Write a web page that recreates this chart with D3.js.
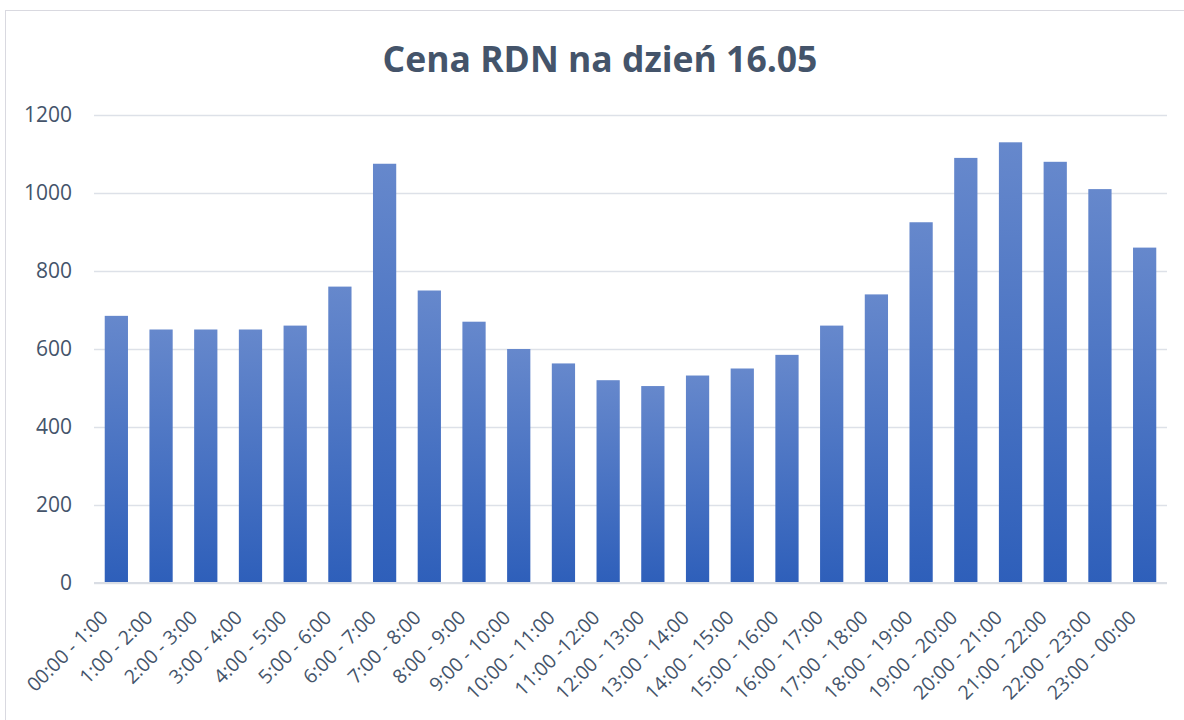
<!DOCTYPE html>
<html>
<head>
<meta charset="utf-8">
<script src="https://cdn.jsdelivr.net/npm/d3@7"></script>
<style>
  body { margin: 0; background: #fff; }
  .chart { width: 1184px; height: 720px; }
  text { font-family: "Open Sans", "Noto Sans", sans-serif; fill: #44546a; }
</style>
</head>
<body>
<div class="chart"></div>
<script>
var title = "Cena RDN na dzień 16.05";
var hours = ["00:00 - 1:00", "1:00 - 2:00", "2:00 - 3:00", "3:00 - 4:00", "4:00 - 5:00",
  "5:00 - 6:00", "6:00 - 7:00", "7:00 - 8:00", "8:00 - 9:00", "9:00 - 10:00",
  "10:00 - 11:00", "11:00 -12:00", "12:00 - 13:00", "13:00 - 14:00", "14:00 - 15:00",
  "15:00 - 16:00", "16:00 - 17:00", "17:00 - 18:00", "18:00 - 19:00", "19:00 - 20:00",
  "20:00 - 21:00", "21:00 - 22:00", "22:00 - 23:00", "23:00 - 00:00"];
var prices = [685, 650, 650, 650, 660, 760, 1075, 750, 670, 600,
  563, 520, 505, 532, 550, 585, 660, 740, 925, 1090,
  1130, 1080, 1010, 860];
var yTicks = [0, 200, 400, 600, 800, 1000, 1200];

var margin = { top: 115, right: 17, bottom: 137, left: 94 };
var width = 1184 - margin.left - margin.right;
var height = 720 - margin.top - margin.bottom;

var root = d3.select(".chart").append("svg")
    .attr("width", 1184)
    .attr("height", 720);

// chart area border
root.append("rect")
    .attr("x", 5.5).attr("y", 10.5)
    .attr("width", 1200).attr("height", 720)
    .attr("fill", "none")
    .attr("stroke", "#d9d9e0")
    .attr("stroke-width", 1);

var grad = root.append("defs").append("linearGradient")
    .attr("id", "barFill")
    .attr("x1", 0).attr("y1", 0).attr("x2", 0).attr("y2", 1);
grad.append("stop").attr("offset", "0%").attr("stop-color", "#6688cc");
grad.append("stop").attr("offset", "100%").attr("stop-color", "#2e5fba");

root.append("text")
    .attr("x", 600).attr("y", 72)
    .attr("text-anchor", "middle")
    .style("font-size", "35.5px")
    .style("font-weight", "bold")
    .text(title);

var svg = root.append("g")
    .attr("transform", "translate(" + margin.left + "," + margin.top + ")");

var x = d3.scaleBand()
    .domain(hours)
    .range([0, width])
    .paddingInner(0.48)
    .paddingOuter(0.24);

var y = d3.scaleLinear()
    .domain([0, 1200])
    .range([height, 0]);

// gridlines
svg.append("g")
    .call(d3.axisLeft(y).tickValues(yTicks).tickSize(-width).tickFormat(""))
    .call(function(g) { g.select(".domain").remove(); })
    .selectAll("line")
    .attr("stroke", "#dde1e8")
    .attr("stroke-width", 1.5);

// y labels
svg.append("g")
    .call(d3.axisLeft(y).tickValues(yTicks).tickSize(0).tickPadding(22).tickFormat(d3.format("d")))
    .call(function(g) { g.select(".domain").remove(); })
    .selectAll("text")
    .style("font-size", "21px")
    .attr("fill", "#44546a");

svg.selectAll(".bar")
    .data(prices)
    .enter().append("rect")
      .attr("class", "bar")
      .attr("x", function(d, i) { return x(hours[i]); })
      .attr("y", function(d) { return y(d); })
      .attr("width", x.bandwidth())
      .attr("height", function(d) { return height - y(d); })
      .attr("fill", "url(#barFill)");

// base line
svg.append("line")
    .attr("x1", 0).attr("x2", width)
    .attr("y1", height).attr("y2", height)
    .attr("stroke", "#d9dde4")
    .attr("stroke-width", 2);

// x labels, rotated
svg.append("g")
  .selectAll("text")
  .data(hours)
  .enter().append("text")
    .attr("transform", function(d) {
      return "translate(" + (x(d) + x.bandwidth() / 2 - 12) + "," + (height + 31) + ") rotate(-45)";
    })
    .attr("text-anchor", "end")
    .attr("dy", "0.35em")
    .style("font-size", "19.5px")
    .text(function(d) { return d; });
</script>
</body>
</html>
